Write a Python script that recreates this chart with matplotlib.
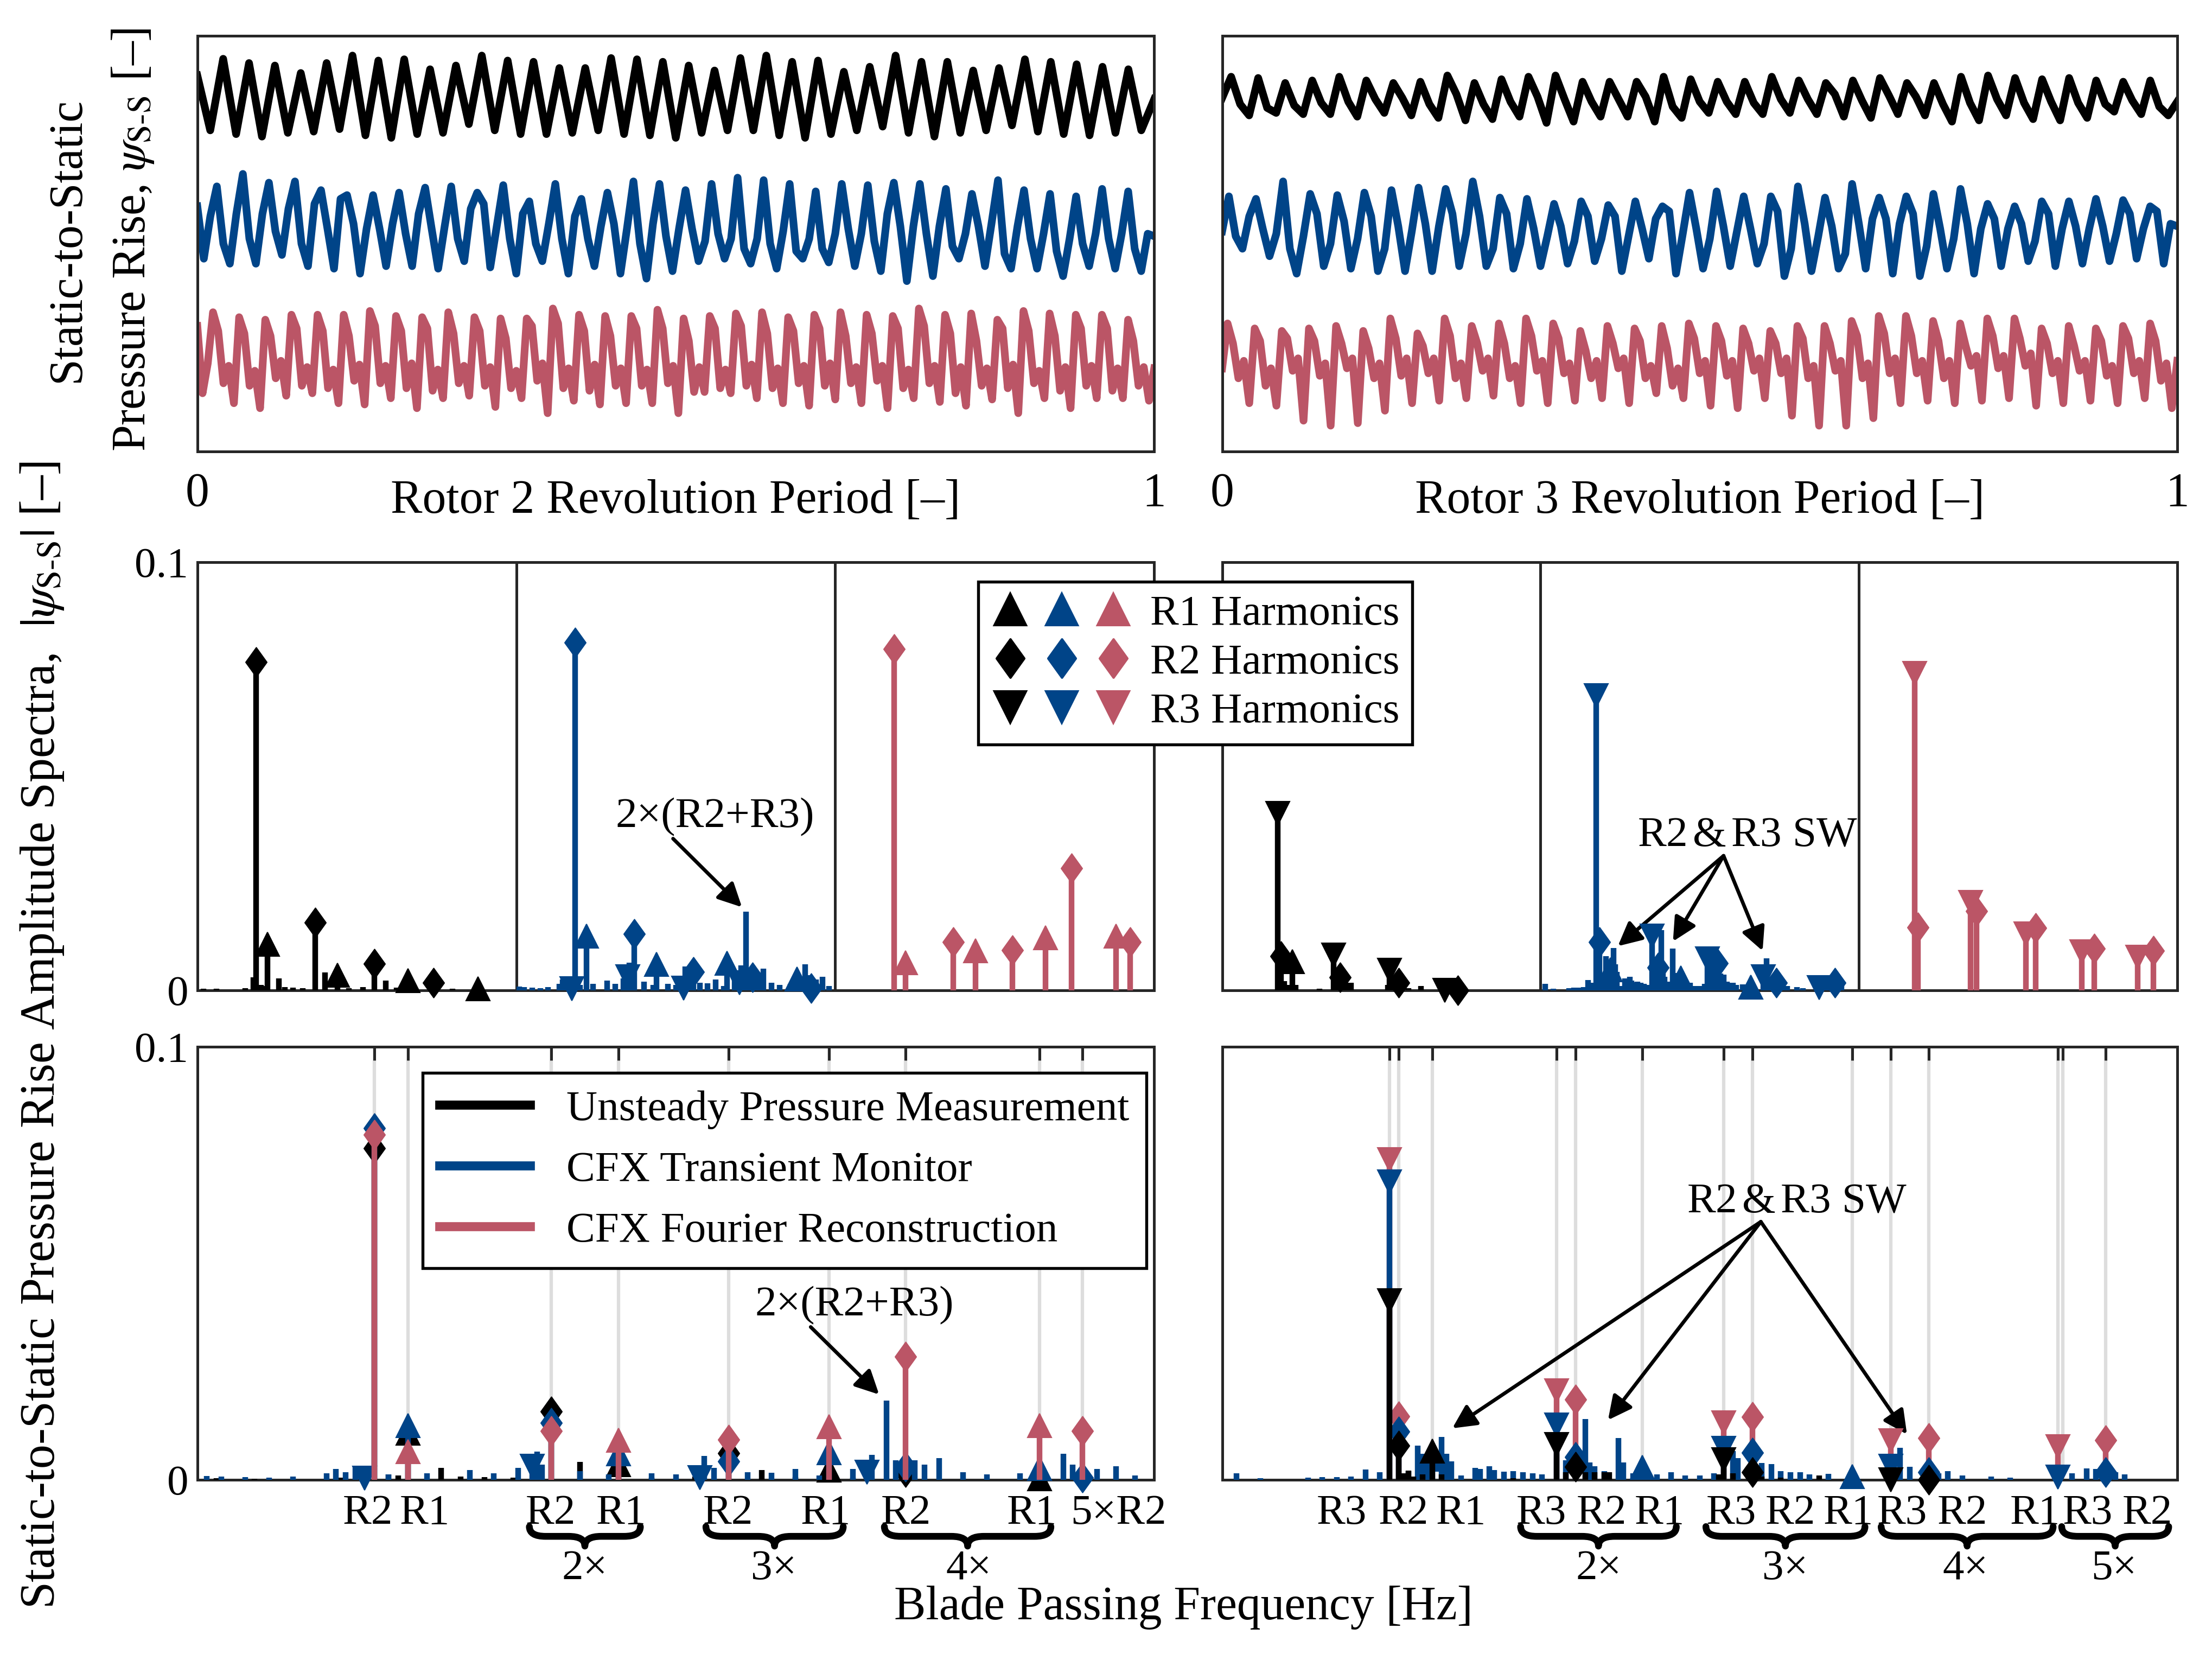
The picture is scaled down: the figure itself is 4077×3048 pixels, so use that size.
import numpy as np
import matplotlib.pyplot as plt
from matplotlib.lines import Line2D
from matplotlib.legend_handler import HandlerTuple
from matplotlib.path import Path
from matplotlib.patches import PathPatch
import matplotlib.transforms as mtransforms

plt.rcParams['font.family'] = ['Liberation Serif', 'DejaVu Serif']
plt.rcParams['mathtext.fontset'] = 'stix'
plt.rcParams['font.size'] = 19
LABEL_FS = 21

BLACK, BLUE, RED = '#000000', '#004488', '#BB5566'
SPINE = '#262626'
SHAFT_HZ = 50.0      # one shaft order [Hz]
F_MAX = 10000.0

# ---------------- time signals (relative pressure rise, offset traces) ----------------
# Rotor 2 revolution, measurement: start, trough/peak per blade passing, end
r2_meas_start, r2_meas_end = 1515, 1420
r2_meas_peak = [1582, 1565, 1555, 1525, 1565, 1595, 1575, 1580, 1540, 1555, 1595, 1575, 1570, 1545, 1545, 1585, 1580, 1570,
                1555, 1535, 1585, 1595, 1570, 1575, 1530, 1550, 1595, 1570, 1570, 1535, 1545, 1580, 1570, 1560, 1550, 1540]
r2_meas_trough = [1295, 1280, 1270, 1285, 1290, 1300, 1275, 1265, 1280, 1285, 1320, 1295, 1280, 1280, 1285, 1295, 1280, 1275, 1265,
                  1285, 1295, 1295, 1275, 1265, 1280, 1295, 1310, 1285, 1270, 1285, 1295, 1315, 1290, 1280, 1275, 1285, 1295]

# Rotor 2 revolution, CFX transient monitor
r2_mon_start, r2_mon_end = [990, 780, 950], [870]
r2_mon_peak = [1070, 1120, 1085, 1090, 1055, 1035, 1035, 1045, 1065, 1070, 1045, 1075, 1010, 1080, 1020, 1045, 1090, 1080,
               1055, 1080, 1105, 1095, 1080, 1050, 1080, 1075, 1085, 1080, 1060, 1040, 1095, 1055, 1040, 1030, 1060, 1050]
r2_mon_shelf = [840, 860, 890, 840, 900, 920, 900, 880, 900, 860, 1000, 860, 840, 860, 860, 920, 840, 870,
                900, 880, 820, 840, 810, 820, 900, 850, 910, 880, 830, 910, 800, 860, 810, 840, 860, 820]
r2_mon_trough = [760, 760, 795, 750, 740, 720, 750, 750, 740, 770, 745, 720, 770, 720, 750, 720, 700, 730,
                 770, 780, 760, 740, 780, 765, 750, 730, 690, 710, 780, 750, 740, 740, 710, 750, 740, 730]
r2_mon_shoulder = [960, 960, 980, 1000, 1020, 900, 920, 960, 910, 980, 910, 960, 920, 950, 910, 900, 920, 900,
                   850, 860, 860, 890, 860, 880, 880, 960, 910, 910, 880, 920, 910, 880, 860, 880, 880, 880]

# Rotor 2 revolution, CFX Fourier reconstruction
r2_four_start, r2_four_end = [510, 240, 360], [340]
r2_four_peak = [565, 545, 535, 555, 555, 555, 570, 550, 545, 565, 545, 540, 540, 580, 555, 550, 550, 575,
                540, 550, 560, 565, 545, 555, 565, 555, 550, 580, 555, 560, 535, 570, 560, 555, 555, 535]
r2_four_shoulder = [490, 480, 470, 500, 490, 470, 510, 490, 500, 480, 490, 460, 510, 520, 490, 470, 500, 500,
                    450, 500, 510, 480, 490, 500, 470, 480, 500, 510, 480, 450, 500, 490, 470, 500, 500, 450]
r2_four_dip = [280, 270, 300, 270, 260, 290, 280, 260, 250, 280, 270, 260, 290, 260, 250, 270, 270, 280,
               245, 260, 270, 260, 280, 270, 280, 290, 260, 280, 240, 270, 260, 280, 250, 270, 250, 270]
r2_four_bump = [350, 330, 370, 345, 335, 355, 350, 360, 335, 350, 345, 330, 360, 340, 355, 340, 335, 350,
                345, 335, 355, 340, 350, 360, 345, 350, 335, 350, 345, 340, 355, 330, 345, 350, 340, 345]
r2_four_trough = [200, 180, 230, 240, 200, 195, 220, 180, 220, 230, 185, 220, 160, 210, 195, 200, 200, 160,
                  245, 240, 220, 200, 190, 215, 200, 180, 220, 205, 190, 215, 160, 220, 180, 220, 220, 210]

# Rotor 3 revolution, measurement
r3_meas_start, r3_meas_end = [1425], [1410]
r3_meas_peak = [1510, 1505, 1485, 1495, 1510, 1495, 1485, 1490, 1515, 1485, 1500, 1510, 1515, 1490, 1490, 1490, 1510, 1500,
                1490, 1490, 1510, 1495, 1485, 1495, 1505, 1485, 1485, 1510, 1515, 1505, 1500, 1505, 1495, 1490, 1495]
r3_meas_shoulder = [1400, 1385, 1395, 1405, 1410, 1420, 1425, 1400, 1440, 1400, 1410, 1430, 1420, 1410, 1420, 1430, 1390, 1410,
                    1410, 1405, 1420, 1420, 1440, 1415, 1435, 1430, 1400, 1405, 1420, 1405, 1410, 1405, 1400, 1415, 1390]
r3_meas_trough = [1355, 1365, 1360, 1360, 1350, 1365, 1355, 1345, 1335, 1340, 1350, 1325, 1330, 1350, 1350, 1330, 1345, 1365,
                  1360, 1360, 1365, 1360, 1350, 1345, 1360, 1355, 1330, 1335, 1355, 1340, 1335, 1345, 1370, 1360, 1355]

# Rotor 3 revolution, CFX transient monitor
r3_mon_start, r3_mon_end = [890], [910]
r3_mon_peak = [1030, 1020, 1090, 1040, 1035, 1045, 1055, 1065, 1060, 1090, 1025, 1020, 1000, 1010, 995, 1010, 990, 1045,
               1050, 1030, 1030, 1070, 1025, 1080, 1025, 1030, 1040, 1060, 1000, 990, 1010, 1010, 1020, 1015, 990]
r3_mon_shelf = [870, 900, 820, 960, 930, 950, 910, 920, 960, 950, 960, 900, 910, 950, 950, 900, 970, 900,
                910, 900, 970, 920, 910, 920, 940, 960, 900, 920, 940, 920, 960, 910, 910, 960, 970]
r3_mon_trough = [820, 790, 720, 750, 740, 730, 730, 730, 750, 750, 740, 750, 760, 770, 730, 780, 720, 740,
                 750, 760, 710, 730, 740, 740, 720, 710, 740, 720, 750, 770, 750, 760, 770, 780, 760]
r3_mon_shoulder = [950, 880, 870, 840, 860, 820, 890, 910, 880, 820, 840, 870, 850, 860, 870, 940, 880, 860,
                   890, 840, 820, 870, 800, 940, 920, 830, 860, 900, 900, 850, 900, 900, 880, 900, 920]

# Rotor 3 revolution, CFX Fourier reconstruction
r3_four_start, r3_four_end = [340], [370]
r3_four_peak = [520, 500, 490, 500, 510, 490, 540, 480, 540, 510, 520, 540, 520, 490, 510, 500, 510, 520,
                510, 500, 490, 510, 510, 530, 550, 550, 530, 520, 540, 540, 500, 510, 500, 510, 520]
r3_four_shoulder = [440, 450, 460, 450, 440, 420, 460, 430, 470, 440, 440, 470, 460, 410, 440, 450, 420, 460,
                    450, 440, 440, 460, 440, 470, 480, 470, 450, 430, 470, 460, 440, 430, 450, 460, 450]
r3_four_dip = [300, 270, 330, 310, 340, 300, 310, 320, 300, 330, 300, 330, 320, 300, 340, 300, 270, 320,
               310, 330, 320, 300, 330, 300, 320, 320, 300, 350, 340, 350, 320, 330, 310, 320, 290]
r3_four_bump = [370, 340, 380, 360, 380, 360, 380, 380, 360, 380, 350, 370, 360, 370, 380, 350, 340, 370,
                370, 380, 380, 350, 370, 360, 380, 370, 370, 390, 390, 400, 370, 370, 350, 370, 360]
r3_four_trough = [200, 190, 130, 110, 120, 170, 200, 210, 220, 230, 200, 200, 210, 220, 200, 240, 220, 190,
                  180, 220, 150, 110, 110, 140, 200, 210, 200, 210, 220, 190, 200, 210, 200, 220, 180]

# ---------------- amplitude spectra |psi_S-S| ----------------
ORD_R1 = [44, 88, 132, 176]
ORD_R2 = [37, 74, 111, 148, 185]
ORD_R3 = [35, 70, 105, 140, 175]
nan = np.nan

# rotor 2 monitor point
r2_meas_R1 = [0.0108, 0.0035, 0.0022, 0.0003]
r2_meas_R2 = [0.0766, 0.0158, 0.0062, 0.0018, nan]
r2_meas_R3 = [nan, nan, nan, nan, nan]
r2_mon_R1 = [0.0126, 0.0060, 0.0063, 0.0026]
r2_mon_R2 = [0.0812, 0.0132, 0.0043, 0.0030, 0.0005]
r2_mon_R3 = [0.0004, 0.0032, 0.0005, 0.0018, nan]
r2_four_R1 = [0.0065, 0.0092, 0.0123, 0.0126]
r2_four_R2 = [0.0797, 0.0113, 0.0093, 0.0285, 0.0113]
r2_four_R3 = [nan, nan, nan, nan, nan]

r2_meas_noise_ord = [4, 12, 30, 35, 40, 42, 51, 55, 60, 66, 80, 95, 104, 118, 125, 137, 160]
r2_meas_noise_amp = [0.0004, 0.0003, 0.0005, 0.0030, 0.0012, 0.0010, 0.0028, 0.0008, 0.0006, 0.0005, 0.0041,
                     0.0005, 0.0008, 0.0023, 0.0006, 0.0005, 0.0003]
r2_mon_noise_ord = [2, 5, 10, 15, 20, 27, 29, 31, 33, 40, 48, 57, 62, 67, 71, 72, 80, 86, 95, 100, 106, 108, 115,
                    120, 125, 130, 137, 141, 144, 146, 150, 152, 155, 160, 165, 172, 181, 183, 188, 192, 196]
r2_mon_noise_amp = [0.0009, 0.0008, 0.0006, 0.0005, 0.0008, 0.0015, 0.0025, 0.0018, 0.0030, 0.0012, 0.0015,
                    0.0022, 0.0015, 0.0028, 0.0065, 0.0035, 0.0020, 0.0012, 0.0015, 0.0012, 0.0055, 0.0028,
                    0.0018, 0.0016, 0.0025, 0.0010, 0.0025, 0.0058, 0.0183, 0.0045, 0.0045, 0.0035, 0.0050,
                    0.0018, 0.0012, 0.0015, 0.0060, 0.0035, 0.0025, 0.0032, 0.0010]

# rotor 3 monitor point
r3_meas_R1 = [0.0067, nan, nan, nan]
r3_meas_R2 = [0.0079, 0.0030, 0.0017, 0.0, nan]
r3_meas_R3 = [0.0413, 0.0082, 0.0047, 0.0, nan]
r3_mon_R1 = [0.0048, 0.0029, 0.0008, nan]
r3_mon_R2 = [0.0112, 0.0053, 0.0063, 0.0017, 0.0017]
r3_mon_R3 = [0.0688, 0.0127, 0.0073, 0.0031, 0.0006]
r3_four_R1 = [nan, nan, nan, nan]
r3_four_R2 = [0.0147, 0.0185, 0.0145, 0.0097, 0.0092]
r3_four_R3 = [0.0740, 0.0205, 0.0132, 0.0090, 0.0077]

r3_meas_noise_ord = [38, 39, 40, 42, 46, 61, 72, 76, 78, 80, 81, 104, 107, 113, 117, 125]
r3_meas_noise_amp = [0.0015, 0.0021, 0.0008, 0.0012, 0.0013, 0.0004, 0.0017, 0.0017, 0.0017, 0.0018, 0.0018,
                     0.0012, 0.0015, 0.0008, 0.0005, 0.0010]
r3_mon_noise_ord = [3, 8, 18, 21, 24, 27, 30, 33, 39, 41, 42, 43, 46, 47, 48, 50, 53, 54, 56, 57, 59, 61, 63, 65,
                    67, 72, 76, 77, 78, 80, 83, 84, 86, 91, 94, 97, 100, 103, 107, 108, 113, 115, 117, 119, 121,
                    123, 127, 142, 144, 150, 152, 155, 161, 165, 178, 181, 183, 187, 189]
r3_mon_noise_amp = [0.0015, 0.0004, 0.0005, 0.0006, 0.0006, 0.0007, 0.0024, 0.0018, 0.0020, 0.0079, 0.0060,
                    0.0045, 0.0099, 0.0060, 0.0043, 0.0010, 0.0028, 0.0025, 0.0031, 0.0022, 0.0019, 0.0020,
                    0.0017, 0.0015, 0.0012, 0.0045, 0.0141, 0.0040, 0.0031, 0.0020, 0.0097, 0.0040, 0.0015,
                    0.0012, 0.0018, 0.0010, 0.0010, 0.0015, 0.0066, 0.0050, 0.0039, 0.0036, 0.0020, 0.0018,
                    0.0018, 0.0012, 0.0014, 0.0074, 0.0030, 0.0015, 0.0020, 0.0010, 0.0008, 0.0005, 0.0015,
                    0.0027, 0.0025, 0.0017, 0.0012]

# x labels below the bottom spectra
r2_tick_text = ['R2', 'R1', 'R2', 'R1', 'R2', 'R1', 'R2', 'R1', '5×R2']
r3_tick_text = ['R3', 'R2', 'R1', 'R3', 'R2', 'R1', 'R3', 'R2', 'R1', 'R3', 'R2', 'R1', 'R3', 'R2']
r2_group_text = ['2×', '3×', '4×']
r3_group_text = ['2×', '3×', '4×', '5×']

# ---------------- helpers ----------------
DIAMOND = Path([(0, 1), (0.72, 0), (0, -1), (-0.72, 0), (0, 1)],
               [Path.MOVETO, Path.LINETO, Path.LINETO, Path.LINETO, Path.CLOSEPOLY])
MK = {'R1': '^', 'R2': DIAMOND, 'R3': 'v'}
MS = {'R1': 10.5, 'R2': 13.0, 'R3': 10.5}
LW = 2.5
LW_TRACE = 3.4


def trace(start, cols, end):
    seq = list(start)
    for vals in zip(*cols):
        seq.extend(vals)
    seq.extend(end)
    seq = np.array(seq, float)
    return np.linspace(0, 1, len(seq)), seq


def style_box(ax):
    for s in ax.spines.values():
        s.set_color(SPINE)
        s.set_linewidth(1.2)


def draw_spec(ax, color, harm, noise_ord, noise_amp, z):
    if len(noise_ord):
        lc = ax.vlines(np.array(noise_ord) * SHAFT_HZ, 0, noise_amp, color=color, lw=LW, zorder=z)
        lc.set_capstyle('butt')
    for orders, amps, key in harm:
        f = np.array(orders, float) * SHAFT_HZ
        a = np.array(amps, float)
        ok = ~np.isnan(a)
        lc = ax.vlines(f[ok], 0, a[ok], color=color, lw=LW, zorder=z)
        lc.set_capstyle('butt')
        ax.plot(f[ok], a[ok], ls='none', marker=MK[key], ms=MS[key], color=color, mec=color, mew=0.5,
                zorder=z + 0.5, clip_on=False)


def add_brace(ax, x0, x1, y, depth, r=170):
    xm = 0.5 * (x0 + x1)
    ym, yt = y - depth / 2, y - depth
    verts = [(x0, y), (x0, ym), (x0 + r, ym), (xm - r, ym), (xm, ym), (xm, yt),
             (xm, ym), (xm + r, ym), (x1 - r, ym), (x1, ym), (x1, y)]
    codes = [Path.MOVETO, Path.CURVE3, Path.CURVE3, Path.LINETO, Path.CURVE3, Path.CURVE3,
             Path.CURVE3, Path.CURVE3, Path.LINETO, Path.CURVE3, Path.CURVE3]
    trans = mtransforms.blended_transform_factory(ax.transData, ax.transAxes)
    ax.add_patch(PathPatch(Path(verts, codes), transform=trans, fill=False, lw=3.0, color='k',
                           capstyle='round', joinstyle='round', clip_on=False))


fig = plt.figure(figsize=(4077 / 300, 3048 / 300), dpi=300)

L0, L1 = 0.0892, 0.5218
R0, R1 = 0.5525, 0.9843

# ---------------- top row: time traces ----------------
top_specs = [
    (L0, 'Rotor 2 Revolution Period [–]',
     [(BLACK, [r2_meas_start], [r2_meas_trough[:-1], r2_meas_peak], [r2_meas_trough[-1], r2_meas_end]),
      (BLUE, r2_mon_start, [r2_mon_peak, r2_mon_shelf, r2_mon_trough, r2_mon_shoulder], r2_mon_end),
      (RED, r2_four_start, [r2_four_peak, r2_four_shoulder, r2_four_dip, r2_four_bump, r2_four_trough], r2_four_end)]),
    (R0, 'Rotor 3 Revolution Period [–]',
     [(BLACK, r3_meas_start, [r3_meas_peak, r3_meas_shoulder, r3_meas_trough], r3_meas_end),
      (BLUE, r3_mon_start, [r3_mon_peak, r3_mon_shelf, r3_mon_trough, r3_mon_shoulder], r3_mon_end),
      (RED, r3_four_start, [r3_four_peak, r3_four_shoulder, r3_four_dip, r3_four_bump, r3_four_trough], r3_four_end)]),
]
for x0, xlabel, traces in top_specs:
    w = (L1 - L0) if x0 == L0 else (R1 - R0)
    ax = fig.add_axes([x0, 0.727, w, 0.2513])
    for color, start, cols, end in traces:
        t, y = trace(start, cols, end)
        ax.plot(t, y, color=color, lw=LW_TRACE, solid_joinstyle='round')
    ax.set_xlim(0, 1)
    ax.set_ylim(6, 1674)
    ax.set_yticks([])
    ax.set_xticks([0, 1])
    ax.set_xticklabels(['0', '1'], fontsize=LABEL_FS)
    ax.tick_params(axis='x', length=0, pad=9)
    ax.text(0.5, -0.066, xlabel, transform=ax.transAxes, ha='center', va='top', fontsize=LABEL_FS)
    style_box(ax)

# ---------------- spectra sources ----------------
r2_src = {
    'meas': (BLACK, [(ORD_R1, r2_meas_R1, 'R1'), (ORD_R2, r2_meas_R2, 'R2'), (ORD_R3, r2_meas_R3, 'R3')],
             r2_meas_noise_ord, r2_meas_noise_amp),
    'mon': (BLUE, [(ORD_R1, r2_mon_R1, 'R1'), (ORD_R2, r2_mon_R2, 'R2'), (ORD_R3, r2_mon_R3, 'R3')],
            r2_mon_noise_ord, r2_mon_noise_amp),
    'four': (RED, [(ORD_R1, r2_four_R1, 'R1'), (ORD_R2, r2_four_R2, 'R2'), (ORD_R3, r2_four_R3, 'R3')], [], []),
}
r3_src = {
    'meas': (BLACK, [(ORD_R1, r3_meas_R1, 'R1'), (ORD_R2, r3_meas_R2, 'R2'), (ORD_R3, r3_meas_R3, 'R3')],
             r3_meas_noise_ord, r3_meas_noise_amp),
    'mon': (BLUE, [(ORD_R1, r3_mon_R1, 'R1'), (ORD_R2, r3_mon_R2, 'R2'), (ORD_R3, r3_mon_R3, 'R3')],
            r3_mon_noise_ord, r3_mon_noise_amp),
    'four': (RED, [(ORD_R1, r3_four_R1, 'R1'), (ORD_R2, r3_four_R2, 'R2'), (ORD_R3, r3_four_R3, 'R3')], [], []),
}

# ---------------- middle row: one panel per source ----------------
mid_axes = []
for x0, x1, src in [(L0, L1, r2_src), (R0, R1, r3_src)]:
    w = (x1 - x0) / 3
    for i, key in enumerate(['meas', 'mon', 'four']):
        ax = fig.add_axes([x0 + i * w, 0.4013, w, 0.2589])
        color, harm, no, na = src[key]
        draw_spec(ax, color, harm, no, na, 3)
        ax.set_xlim(0, F_MAX)
        ax.set_ylim(0, 0.1)
        ax.set_xticks([])
        if x0 == L0 and i == 0:
            ax.set_yticks([0, 0.1])
            ax.set_yticklabels(['0', '0.1'])
            ax.tick_params(axis='y', length=0, pad=4)
        else:
            ax.set_yticks([])
        style_box(ax)
        mid_axes.append(ax)

ARROW = dict(arrowstyle='-|>', lw=1.6, color='k', mutation_scale=22, shrinkA=0, shrinkB=0)
SW_TEXT = r'R2$\,$&$\,$R3 SW'
ax = mid_axes[1]
ax.text(124.7 * SHAFT_HZ, 0.0405, '2×(R2+R3)', ha='center', va='center')
ax.annotate('', xy=(141.5 * SHAFT_HZ, 0.0194), xytext=(98.3 * SHAFT_HZ, 0.0354), arrowprops=ARROW)
ax = mid_axes[4]
ax.text(130 * SHAFT_HZ, 0.0361, SW_TEXT, ha='center', va='center')
for xo, yo in [(48.6, 0.0103), (83.2, 0.0114), (139.5, 0.0092)]:
    ax.annotate('', xy=(xo * SHAFT_HZ, yo), xytext=(115 * SHAFT_HZ, 0.0314), arrowprops=ARROW)

# ---------------- bottom row: overlaid spectra ----------------
ax_bl = fig.add_axes([L0, 0.1053, L1 - L0, 0.2618])
ax_br = fig.add_axes([R0, 0.1053, R1 - R0, 0.2618])

bl_ticks = sorted(o * SHAFT_HZ for o in ORD_R2 + ORD_R1)
br_ticks = sorted(o * SHAFT_HZ for o in ORD_R3 + ORD_R2 + ORD_R1)

for ax, src, order, ticks in [(ax_bl, r2_src, ['meas', 'mon', 'four'], bl_ticks),
                              (ax_br, r3_src, ['four', 'mon', 'meas'], br_ticks)]:
    for f in ticks:
        ax.axvline(f, color='#DDDDDD', lw=1.5, zorder=0.5)
    for z, key in zip([3, 4, 5], order):
        color, harm, no, na = src[key]
        draw_spec(ax, color, harm, no, na, z)
    ax.set_xlim(0, F_MAX)
    ax.set_ylim(0, 0.1)
    ax.set_xticks(ticks)
    ax.tick_params(axis='x', bottom=False, top=True, direction='in', length=6, width=1.2,
                   color=SPINE, labelbottom=False)
    style_box(ax)

ax_bl.set_yticks([0, 0.1])
ax_bl.set_yticklabels(['0', '0.1'])
ax_bl.tick_params(axis='y', length=0, pad=4)
ax_br.set_yticks([])

trans_bl = mtransforms.blended_transform_factory(ax_bl.transData, ax_bl.transAxes)
trans_br = mtransforms.blended_transform_factory(ax_br.transData, ax_br.transAxes)

bl_text_x = [1780, 2380, 3695, 4430, 5545, 6565, 7405, 8720, 9625]
for x, s in zip(bl_text_x, r2_tick_text):
    ax_bl.text(x, -0.1015, s, transform=trans_bl, ha='center', va='baseline')
br_text_x = [1250, 1900, 2500, 3340, 3975, 4580, 5330, 5950, 6560, 7120, 7750, 8510, 9060, 9690]
for x, s in zip(br_text_x, r3_tick_text):
    ax_br.text(x, -0.1015, s, transform=trans_br, ha='center', va='baseline')

for (a, b, xm), s in zip([(3470, 4630, 4050), (5315, 6750, 6025), (7180, 8920, 8060)], r2_group_text):
    add_brace(ax_bl, a, b, -0.108, 0.045)
    ax_bl.text(xm, -0.229, s, transform=trans_bl, ha='center', va='baseline')
for (a, b, xm), s in zip([(3125, 4755, 3940), (5065, 6730, 5895), (6900, 8700, 7785), (8790, 9910, 9335)],
                         r3_group_text):
    add_brace(ax_br, a, b, -0.108, 0.045)
    ax_br.text(xm, -0.229, s, transform=trans_br, ha='center', va='baseline')

ax_bl.text(137.3 * SHAFT_HZ, 0.0403, '2×(R2+R3)', ha='center', va='center')
ax_bl.annotate('', xy=(142.5 * SHAFT_HZ, 0.0197), xytext=(128.2 * SHAFT_HZ, 0.0353), arrowprops=ARROW)
ax_br.text(120.3 * SHAFT_HZ, 0.0642, SW_TEXT, ha='center', va='center')
for xo, yo in [(48.2, 0.0119), (80.8, 0.0138), (143.4, 0.0105)]:
    ax_br.annotate('', xy=(xo * SHAFT_HZ, yo), xytext=(112.8 * SHAFT_HZ, 0.0596), arrowprops=ARROW)

# ---------------- legends ----------------
def mk_handle(color, key):
    return Line2D([], [], ls='none', marker=MK[key], color=color, mec=color, ms=17 if key == 'R2' else 14)


harm_handles = [tuple(mk_handle(c, k) for c in (BLACK, BLUE, RED)) for k in ('R1', 'R2', 'R3')]
leg1 = fig.legend(harm_handles, ['R1 Harmonics', 'R2 Harmonics', 'R3 Harmonics'],
                  handler_map={tuple: HandlerTuple(ndivide=None, pad=0.3)},
                  loc='upper left', bbox_to_anchor=(0.4422, 0.6483), borderaxespad=0,
                  fancybox=False, edgecolor='k', framealpha=1, borderpad=0.3, labelspacing=0.22,
                  handlelength=3.3, handletextpad=0.4)
leg1.get_frame().set_linewidth(1.3)

src_handles = [Line2D([], [], color=c, lw=4) for c in (BLACK, BLUE, RED)]
leg2 = fig.legend(src_handles, ['Unsteady Pressure Measurement', 'CFX Transient Monitor',
                                'CFX Fourier Reconstruction'],
                  loc='upper left', bbox_to_anchor=(0.191, 0.3514), borderaxespad=0,
                  fancybox=False, edgecolor='k', framealpha=1, borderpad=0.4, labelspacing=0.5,
                  handlelength=2.1, handletextpad=0.85)
leg2.get_frame().set_linewidth(1.3)

# ---------------- axis titles ----------------
fig.text(0.0455, 0.855, 'Static-to-Static\nPressure Rise, $\\psi_{\\mathrm{S}\\text{-}\\mathrm{S}}$ [–]',
         rotation=90, ha='center', va='center', linespacing=1.6, multialignment='center', fontsize=LABEL_FS)
fig.text(0.019, 0.374, 'Static-to-Static Pressure Rise Amplitude Spectra,  '
         '$|\\psi_{\\mathrm{S}\\text{-}\\mathrm{S}}|$ [–]', rotation=90, ha='center', va='center',
         fontsize=LABEL_FS + 0.5)
fig.text(0.535, 0.021, 'Blade Passing Frequency [Hz]', ha='center', va='baseline', fontsize=LABEL_FS)

fig.savefig('out.png', dpi=300)
